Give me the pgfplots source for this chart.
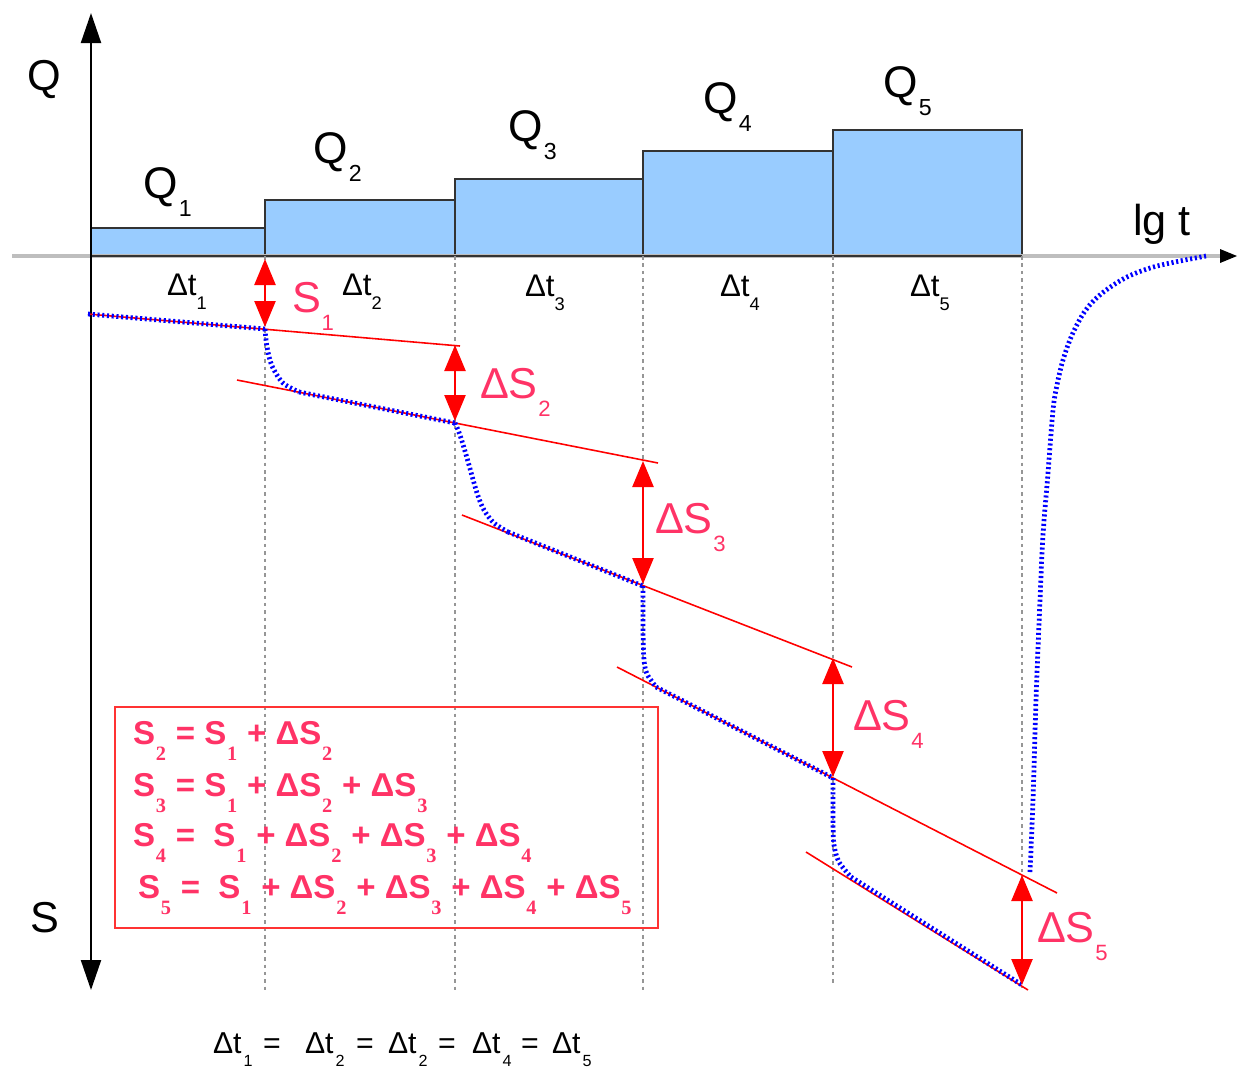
\documentclass[border=0pt]{standalone}
\usepackage{fontspec}
\setmainfont{Liberation Sans}
\newfontfamily\idxfont{Liberation Serif}
\usepackage{pgfplots}
\pgfplotsset{compat=1.18}
\usetikzlibrary{arrows.meta}

\definecolor{barblue}{RGB}{153,204,255}
\definecolor{baredge}{RGB}{51,51,51}
\definecolor{pinktxt}{RGB}{255,51,102}
\definecolor{curveblue}{RGB}{0,0,255}
\definecolor{guidegray}{RGB}{150,150,150}
\definecolor{axisgray}{RGB}{190,190,190}
\definecolor{boxred}{RGB}{255,51,51}

\newcommand{\fs}[1]{\fontsize{#1}{#1}\selectfont}
% lowered index: drop, size, text
\newcommand{\lo}[3]{\raisebox{-#1}{\fs{#2}#3}}
\newcommand{\Qs}[1]{\kern0.4pt\lo{5.3pt}{6.6}{#1}}
\newcommand{\Ts}[1]{\lo{4.2pt}{5.2}{#1}}
\newcommand{\Ps}[1]{\kern0.2pt\lo{5.2pt}{6.3}{#1}}
\newcommand{\Bs}[1]{\kern0.25pt\raisebox{-4.7pt}{\idxfont\bfseries\fs{5.8}#1}\kern0.15pt\relax}
\newcommand{\Ls}[1]{\kern0.6pt\lo{3.9pt}{4.6}{#1}}

\begin{document}
\begin{tikzpicture}[
  lab/.style={anchor=base west, inner sep=0pt, outer sep=0pt},
  arr/.style={red, line width=0.7pt,
    arrows={Triangle[width=2.1mm,length=2.6mm]-Triangle[width=2.1mm,length=2.6mm]}},
  trend/.style={red, line width=0.45pt},
  guide/.style={guidegray, line width=0.6pt, dash pattern=on 1pt off 1.1pt},
  drawdown/.style={curveblue, line width=1.35pt, dash pattern=on 0.6pt off 0.75pt},
]
\begin{axis}[
  scale only axis, width=12.38cm, height=10.67cm,
  xmin=0, xmax=1238, ymin=0, ymax=1067, y dir=reverse,
  hide axis, clip=false,
  every axis plot/.append style={no marks},
]
\path (axis cs:0,0) rectangle (axis cs:1238,1067);

% discharge steps
\addplot[fill=barblue, draw=baredge, line width=0.6pt] coordinates {(91,256) (91,228) (265,228) (265,256)} -- cycle;
\addplot[fill=barblue, draw=baredge, line width=0.6pt] coordinates {(265,256) (265,200) (455,200) (455,256)} -- cycle;
\addplot[fill=barblue, draw=baredge, line width=0.6pt] coordinates {(455,256) (455,179) (643,179) (643,256)} -- cycle;
\addplot[fill=barblue, draw=baredge, line width=0.6pt] coordinates {(643,256) (643,151) (833,151) (833,256)} -- cycle;
\addplot[fill=barblue, draw=baredge, line width=0.6pt] coordinates {(833,256) (833,130) (1022,130) (1022,256)} -- cycle;

% time axis and drawdown axis
\draw[axisgray, line width=0.9pt] (axis cs:12,256) -- (axis cs:1222,256);
\fill[black] (axis cs:1220,249) -- (axis cs:1237,256) -- (axis cs:1220,263) -- cycle;
\draw[baredge, line width=0.6pt] (axis cs:91,228) -- (axis cs:91,256) -- (axis cs:1022,256);
\draw[black, line width=0.6pt,
  arrows={Triangle[width=2mm,length=3mm]-Triangle[width=2mm,length=3mm]}]
  (axis cs:91,990) -- (axis cs:91,13);

% step boundaries
\addplot[guide] coordinates {(265,256) (265,990)};
\addplot[guide] coordinates {(455,256) (455,990)};
\addplot[guide] coordinates {(643,256) (643,990)};
\addplot[guide] coordinates {(833,256) (833,985)};
\addplot[guide] coordinates {(1022,256) (1022,988)};

% straight-line fits of each step
\addplot[trend] coordinates {(88,314) (460,346)};
\addplot[trend] coordinates {(237,380) (658,463)};
\addplot[trend] coordinates {(462,515) (852,667)};
\addplot[trend] coordinates {(617,667) (1057,893)};
\addplot[trend] coordinates {(806,852) (1028,990)};

% drawdown curve
\addplot[drawdown] coordinates {(88,314) (265,329)};
\addplot[drawdown, smooth, tension=0.5] coordinates {(265,329) (267,347) (272,366) (283,383) (299,392)};
\addplot[drawdown] coordinates {(299,392) (455,423)};
\addplot[drawdown, smooth, tension=0.5] coordinates {(455,423) (460,435) (467,458) (477,493) (484,510) (494,523) (508,532)};
\addplot[drawdown] coordinates {(508,532) (643,586)};
\addplot[drawdown, smooth, tension=0.5] coordinates {(643,586) (643,630) (644,660) (647,674) (656,687)};
\addplot[drawdown] coordinates {(656,687) (833,778)};
\addplot[drawdown, smooth, tension=0.5] coordinates {(833,778) (833,820) (834,845) (839,862) (851,877)};
\addplot[drawdown] coordinates {(851,877) (1022,985)};
% recovery
\addplot[drawdown, smooth, tension=0.55] coordinates {(1030,872) (1033,800) (1036,700) (1040,600) (1043,535) (1048,473) (1053,410) (1057,385) (1063,360) (1072,335) (1085,311) (1101,294) (1125,278) (1150,268) (1175,262) (1206,256)};

% drawdown increments
\addplot[arr] coordinates {(265,259) (265,327)};
\addplot[arr] coordinates {(455,345) (455,421)};
\addplot[arr] coordinates {(643,461) (643,584)};
\addplot[arr] coordinates {(833,658) (833,777)};
\addplot[arr] coordinates {(1022,875) (1022,985)};

% axis titles
\node[lab, font=\fs{12.3}] at (axis cs:27,90) {Q};
\node[lab, font=\fs{12.3}] at (axis cs:31,932) {S};
\node[lab, font=\fs{12.3}] at (axis cs:1133,235) {lg t};

% rates
\node[lab, font=\fs{12.6}] at (axis cs:143,198) {Q\Qs{1}};
\node[lab, font=\fs{12.6}] at (axis cs:313,163) {Q\Qs{2}};
\node[lab, font=\fs{12.6}] at (axis cs:508,141) {Q\Qs{3}};
\node[lab, font=\fs{12.6}] at (axis cs:703,113) {Q\Qs{4}};
\node[lab, font=\fs{12.6}] at (axis cs:883,97) {Q\Qs{5}};

% intervals
\node[lab, font=\fs{8.9}] at (axis cs:167,295) {Δt\Ts{1}};
\node[lab, font=\fs{8.9}] at (axis cs:342,295) {Δt\Ts{2}};
\node[lab, font=\fs{8.9}] at (axis cs:525,296) {Δt\Ts{3}};
\node[lab, font=\fs{8.9}] at (axis cs:720,296) {Δt\Ts{4}};
\node[lab, font=\fs{8.9}] at (axis cs:910,296) {Δt\Ts{5}};

% drawdown labels
\begin{scope}[every node/.append style={text=pinktxt}]
\node[lab, font=\fs{12.3}] at (axis cs:292,312) {S\Ps{1}};
\node[lab, font=\fs{12.3}] at (axis cs:480,398) {ΔS\Ps{2}};
\node[lab, font=\fs{12.3}] at (axis cs:655,533) {ΔS\Ps{3}};
\node[lab, font=\fs{12.3}] at (axis cs:853,730) {ΔS\Ps{4}};
\node[lab, font=\fs{12.3}] at (axis cs:1037,942) {ΔS\Ps{5}};
\end{scope}

% summary box
\draw[boxred, line width=0.7pt] (axis cs:115,707) rectangle (axis cs:658,928);
\begin{scope}[every node/.append style={text=pinktxt}]
\node[lab, font=\bfseries\fs{9.4}] at (axis cs:133,744) {S\Bs{2} = S\Bs{1} + ΔS\Bs{2}};
\node[lab, font=\bfseries\fs{9.4}] at (axis cs:133,796) {S\Bs{3} = S\Bs{1} + ΔS\Bs{2} + ΔS\Bs{3}};
\node[lab, font=\bfseries\fs{9.4}] at (axis cs:133,846) {S\Bs{4} =\ \ S\Bs{1} + ΔS\Bs{2} + ΔS\Bs{3} + ΔS\Bs{4}};
\node[lab, font=\bfseries\fs{9.4}] at (axis cs:138,898) {S\Bs{5} =\ \ S\Bs{1} + ΔS\Bs{2} + ΔS\Bs{3} + ΔS\Bs{4} + ΔS\Bs{5}};
\end{scope}

% equal intervals
\begin{scope}[every node/.append style={lab, font=\fs{8.6}}]
\node at (axis cs:213,1053) {Δt\Ls{1}};
\node at (axis cs:263,1053) {=};
\node at (axis cs:305,1053) {Δt\Ls{2}};
\node at (axis cs:356,1053) {=};
\node at (axis cs:388,1053) {Δt\Ls{2}};
\node at (axis cs:438,1053) {=};
\node at (axis cs:472,1053) {Δt\Ls{4}};
\node at (axis cs:521,1053) {=};
\node at (axis cs:552,1053) {Δt\Ls{5}};
\end{scope}
\end{axis}
\end{tikzpicture}
\end{document}
